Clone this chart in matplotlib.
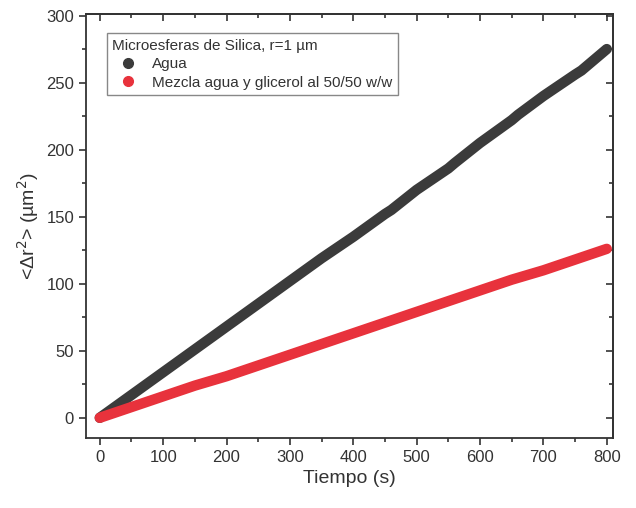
import numpy as np
import matplotlib
matplotlib.use('Agg')
import matplotlib.pyplot as plt
from matplotlib.lines import Line2D
from matplotlib.ticker import MultipleLocator

plt.rcParams['font.family'] = ['Liberation Sans', 'DejaVu Sans']

# tiempo (s) y desplazamiento cuadratico medio (um^2)
t_agua = [0, 50, 100, 150, 200, 250, 300, 350, 400, 450, 460, 500, 550, 560, 600, 650, 660, 700, 750, 760, 800]
msd_agua = [0, 17, 34, 51, 68, 85, 102, 119, 135, 152, 155, 170, 186, 190, 205, 222, 226, 240, 256, 259, 275]

t_mezcla = [0, 50, 100, 150, 200, 250, 300, 350, 400, 450, 500, 550, 600, 650, 700, 750, 800]
msd_mezcla = [0, 8, 16, 24, 31, 39, 47, 55, 63, 71, 79, 87, 95, 103, 110, 118, 126]

c_agua = '#3b3b3b'
c_mezcla = '#e8323c'

fig = plt.figure(figsize=(6.36, 5.08), dpi=100)
ax = fig.add_axes([0.135, 0.138, 0.829, 0.834])

ax.plot(t_agua, msd_agua, color=c_agua, lw=7.5, solid_capstyle='round', solid_joinstyle='round')
ax.plot(t_mezcla, msd_mezcla, color=c_mezcla, lw=7.5, solid_capstyle='round', solid_joinstyle='round')

ax.set_xlim(-22, 810)
ax.set_ylim(-15, 301)
ax.xaxis.set_major_locator(MultipleLocator(100))
ax.xaxis.set_minor_locator(MultipleLocator(50))
ax.yaxis.set_major_locator(MultipleLocator(50))
ax.yaxis.set_minor_locator(MultipleLocator(25))
ax.tick_params(which='both', direction='out', labelsize=12, colors='#333333', width=1.2)
ax.tick_params(which='major', length=5)
ax.tick_params(which='minor', length=3)

top = ax.secondary_xaxis('top')
top.xaxis.set_major_locator(MultipleLocator(100))
top.xaxis.set_minor_locator(MultipleLocator(50))
top.tick_params(which='both', direction='in', labeltop=False, width=1.2, colors='#333333')
top.tick_params(which='major', length=5)
top.tick_params(which='minor', length=3)
right = ax.secondary_yaxis('right')
right.yaxis.set_major_locator(MultipleLocator(50))
right.yaxis.set_minor_locator(MultipleLocator(25))
right.tick_params(which='both', direction='in', labelright=False, width=1.2, colors='#333333')
right.tick_params(which='major', length=5)
right.tick_params(which='minor', length=3)
for s in list(ax.spines.values()) + [top.spines['top'], right.spines['right']]:
    s.set_linewidth(1.3)
    s.set_color('#333333')

ax.set_xlabel('Tiempo (s)', fontsize=14, color='#333333')
ax.set_ylabel('<\u0394r$^2$> (\u00b5m$^2$)', fontsize=14, color='#333333')

handles = [Line2D([], [], ls='none', marker='o', ms=7, color=c_agua),
           Line2D([], [], ls='none', marker='o', ms=7, color=c_mezcla)]
leg = ax.legend(handles, ['Agua', 'Mezcla agua y glicerol al 50/50 w/w'],
                title='Microesferas de Silica, r=1 \u00b5m', loc='upper left',
                bbox_to_anchor=(0.04, 0.955), borderaxespad=0,
                fontsize=11, title_fontsize=11,
                fancybox=False, edgecolor='#888888', framealpha=1,
                handletextpad=0.6, borderpad=0.35, labelspacing=0.3)
leg._legend_box.align = 'left'
leg.get_frame().set_linewidth(1.0)
for txt in leg.get_texts():
    txt.set_color('#333333')
leg.get_title().set_color('#333333')

fig.savefig('out.png', dpi=100)
